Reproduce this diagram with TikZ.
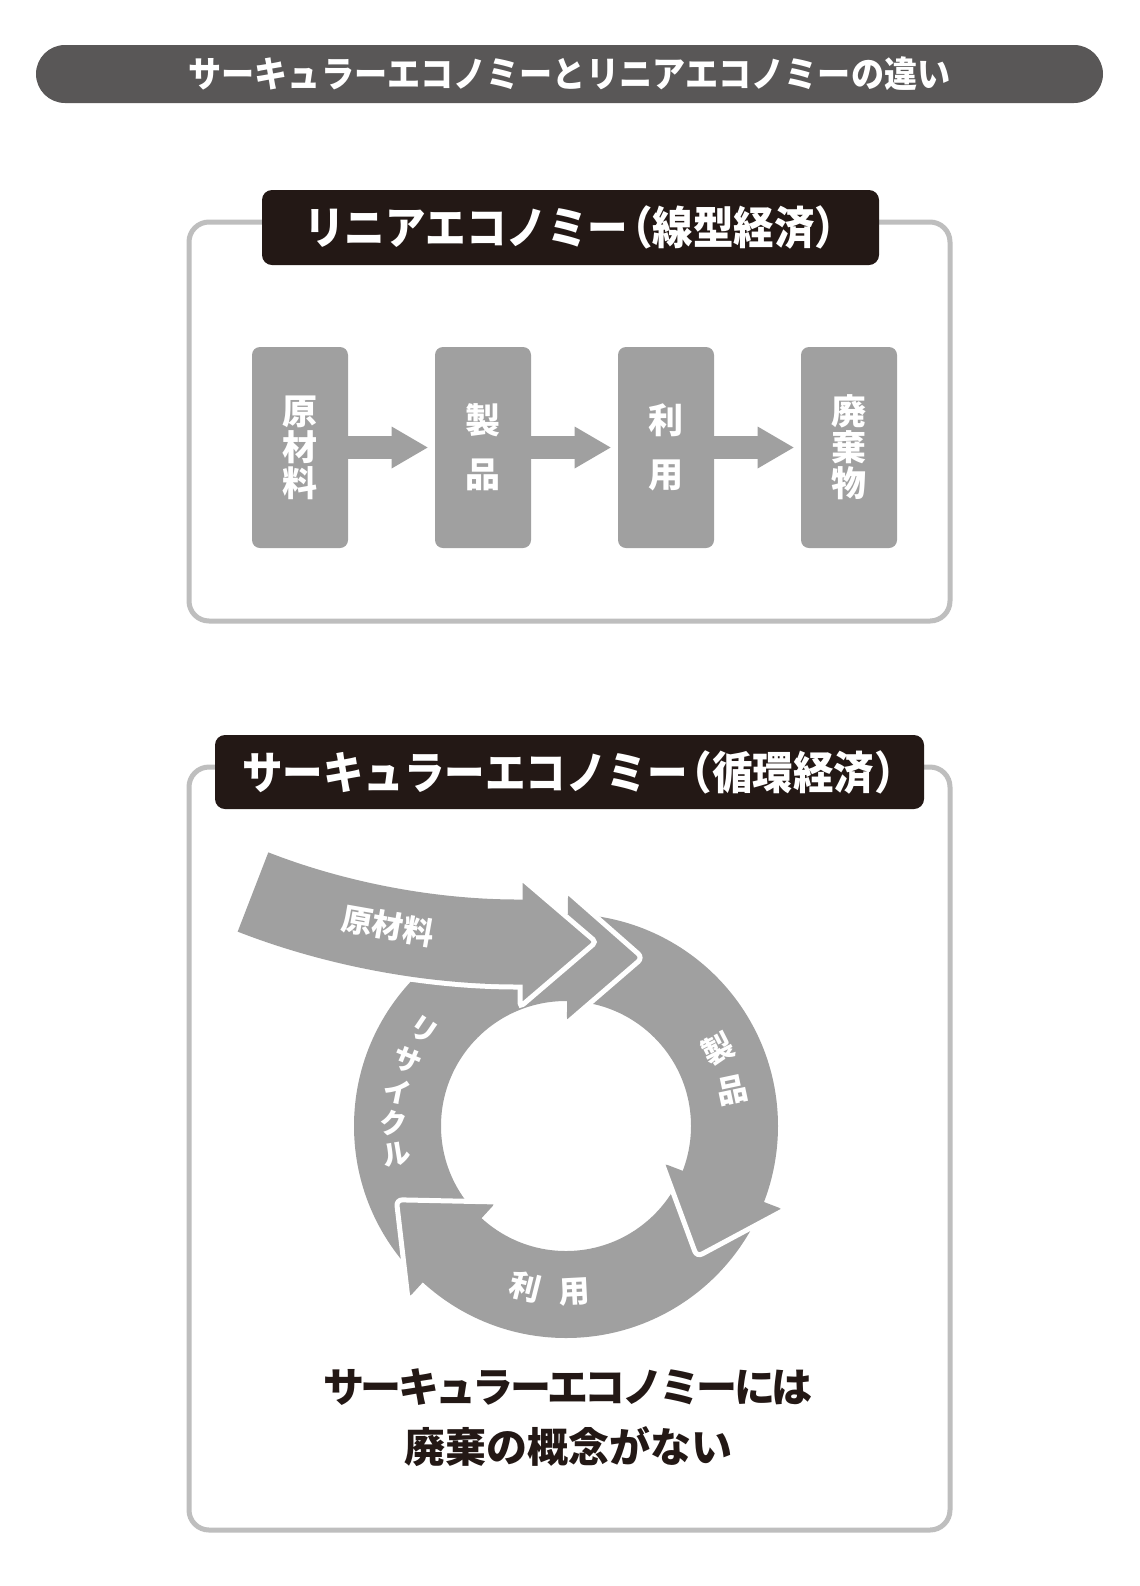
\documentclass[tikz,border=0pt]{standalone}
\usepackage{fontspec}
\usepackage{graphicx}
\setmainfont{Noto Sans CJK JP}
\usetikzlibrary{calc}
\usetikzlibrary{arrows.meta}

\definecolor{barcol}{HTML}{595757}
\definecolor{headcol}{HTML}{231815}
\definecolor{boxcol}{HTML}{A0A0A0}
\definecolor{framecol}{HTML}{BEBEBE}

\begin{document}
\begin{tikzpicture}[x=0.5pt, y=-0.5pt,
  frame/.style={draw=framecol, line width=2.5pt, rounded corners=10pt},
  headbar/.style={fill=headcol, rounded corners=5pt, text=white, font=\bfseries\fontsize{22.5}{26}\selectfont},
  stepbox/.style={fill=boxcol, rounded corners=4pt, minimum width=48pt, minimum height=100.5pt, inner sep=0pt, text=white, align=center, font=\bfseries\fontsize{17.5}{18}\selectfont},
  flow/.style={draw=boxcol, line width=11.5pt, shorten >=3.5pt, -{Triangle[length=18pt, width=21pt, line width=0pt]}},
  ringtext/.style={text=white, font=\bfseries\fontsize{15.5}{18}\selectfont, inner sep=0pt}]

	\fill[white] (0,0) rectangle (1140,1586);
	\useasboundingbox (0,0) rectangle (1140,1586);

	\node[fill=barcol, rounded corners=14.5pt, minimum width=533.5pt, minimum height=29pt, text=white, font=\bfseries\fontsize{18}{20}\selectfont] (title) at (569.5,74) {\scalebox{0.92}[1]{サーキュラーエコノミーとリニアエコノミーの違い}};

	\draw[frame] (189,222) rectangle (950,621);
	\node[headbar, minimum width=308.5pt, minimum height=37.5pt] (linhead) at (570.5,227.5) {\scalebox{0.9}[1]{リニアエコノミー\hspace{-.4em}（線型経済）\hspace{-.45em}}};

	\node[stepbox] (raw) at (300,447.5) {原\\材\\料};
	\node[stepbox] (prod) at (483,447.5) {製\\[9pt]品};
	\node[stepbox] (use) at (666,447.5) {利\\[9pt]用};
	\node[stepbox] (waste) at (849,447.5) {廃\\棄\\物};

	\draw[flow] (raw) -- (prod);
	\draw[flow] (prod) -- (use);
	\draw[flow] (use) -- (waste);

	\draw[frame] (189,767) rectangle (950,1530);
	\node[headbar, minimum width=354.5pt, minimum height=37pt] (circhead) at (569.5,772) {\scalebox{0.9}[1]{サーキュラーエコノミー\hspace{-.4em}（循環経済）\hspace{-.45em}}};

	\coordinate (hub) at (566,1126);
	\fill[boxcol, even odd rule] (hub) circle [radius=212] (hub) circle [radius=125];
	\foreach \b in {21, 132.5, 270.5} {
		\fill[boxcol, rounded corners=3pt] ($(hub)+(\b:103)$) -- ($(hub)+({\b+24}:185)$) -- ($(hub)+(\b:234)$) -- cycle;
		\draw[white, line width=2.5pt, rounded corners=3pt] ($(hub)+(\b:103)$) -- ($(hub)+({\b+24}:185)$) -- ($(hub)+(\b:234)$);
	}

	\coordinate (rawtail) at (253,892);
	\coordinate (rawbase) at (518,942);
	\coordinate (rawtip) at (596,942);
	\draw[white, line width=47.5pt] (rawtail) .. controls (335,924) and (430,942) .. (rawbase) -- (535,942);
	\filldraw[fill=boxcol, draw=white, line width=2.5pt, rounded corners=2pt] (520,877) -- (rawtip) -- (520,1007) -- cycle;
	\draw[boxcol, line width=42.5pt] (rawtail) .. controls (335,924) and (430,942) .. (rawbase) -- (535,942);
	\node[ringtext, rotate=-10] (rawlabel) at (388,926) {原材料};

	\foreach \ch/\ang [count=\i] in {製/333, 品/348}
		\node[ringtext, rotate=-\ang] (prodch\i) at ($(hub)+(\ang:170)$) {\ch};
	\foreach \ch/\ang [count=\i] in {利/104, 用/87}
		\node[ringtext, rotate=90-\ang] (usech\i) at ($(hub)+(\ang:166)$) {\ch};
	\foreach \ch/\ang [count=\i] in {リ/214, サ/202.5, イ/191.5, ク/181, ル/170.5}
		\node[ringtext, font=\bfseries\fontsize{14}{16}\selectfont, rotate=180-\ang] (recch\i) at ($(hub)+(\ang:172)$) {\ch};

	\node[text=headcol, align=center, font=\bfseries\fontsize{20.5}{30}\selectfont] (note) at (568,1418) {{\addfontfeature{LetterSpace=-9}サーキュラーエコノミーには}\\廃棄の概念がない};
\end{tikzpicture}
\end{document}
